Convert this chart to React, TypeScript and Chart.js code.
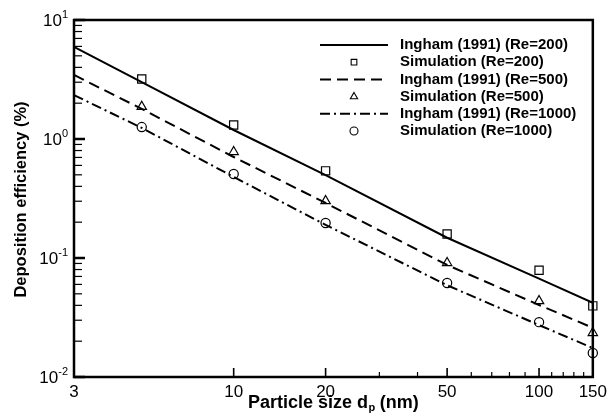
import React, { useEffect, useRef } from "react";
import { Chart, registerables } from "chart.js";

Chart.register(...registerables);

const FONT = '"Liberation Sans", Arial, Helvetica, sans-serif';

// Simulation data points (particle size, nm)
const simSizes = [5, 10, 20, 50, 100, 150];
const simRe200 = [3.19, 1.31, 0.54, 0.159, 0.079, 0.0396];
const simRe500 = [1.87, 0.78, 0.302, 0.091, 0.0436, 0.0235];
const simRe1000 = [1.26, 0.508, 0.197, 0.0617, 0.0289, 0.0159];

// Ingham (1991) curves
const theorySizes = [3, 5, 10, 20, 50, 100, 150];
const inghamRe200 = [5.94, 3.01, 1.19, 0.498, 0.148, 0.067, 0.042];
const inghamRe500 = [3.45, 1.79, 0.706, 0.29, 0.0874, 0.0403, 0.0259];
const inghamRe1000 = [2.34, 1.24, 0.48, 0.19, 0.059, 0.0273, 0.0175];

// Axes
const xTickValues = [3, 10, 20, 50, 100, 150];
const xMajorMarks = [10, 20, 50, 100];
const xMinorMarks = [30, 40, 60, 70, 80, 90, 110, 120, 130, 140];
const yDecades = [0.01, 0.1, 1, 10];
const yDecadeExponents = ["-2", "-1", "0", "1"];
const yMinorFactors = [2, 3, 4, 5, 6, 7, 8, 9];

const legendLabels = [
  "Ingham (1991) (Re=200)",
  "Simulation (Re=200)",
  "Ingham (1991) (Re=500)",
  "Simulation (Re=500)",
  "Ingham (1991) (Re=1000)",
  "Simulation (Re=1000)",
];

const xTitleMain = "Particle size d";
const xTitleSub = "p";
const xTitleTail = " (nm)";
const yTitle = "Deposition efficiency (%)";

const toPts = (xs: number[], ys: number[]) => xs.map((x, i) => ({ x, y: ys[i] }));

function drawMarker(ctx: CanvasRenderingContext2D, style: string, x: number, y: number, r: number) {
  ctx.beginPath();
  if (style === "rect") {
    const s = r * Math.SQRT1_2;
    ctx.rect(x - s, y - s, 2 * s, 2 * s);
  } else if (style === "triangle") {
    for (let k = 0; k < 3; k++) {
      const ang = (k * 2 * Math.PI) / 3;
      const px = x + Math.sin(ang) * r;
      const py = y - Math.cos(ang) * r;
      if (k === 0) ctx.moveTo(px, py);
      else ctx.lineTo(px, py);
    }
    ctx.closePath();
  } else {
    ctx.arc(x, y, r, 0, Math.PI * 2);
  }
  ctx.stroke();
}

const decorPlugin = {
  id: "decor",
  beforeDatasetsDraw(chart: any) {
    const { ctx, chartArea: a, scales } = chart;
    const xs = scales.x;
    const ys = scales.y;
    ctx.save();
    ctx.strokeStyle = "#000";
    const seg = (x1: number, y1: number, x2: number, y2: number) => {
      ctx.beginPath();
      ctx.moveTo(x1, y1);
      ctx.lineTo(x2, y2);
      ctx.stroke();
    };
    // y minor ticks
    ctx.lineWidth = 1.2;
    for (const d of yDecades.slice(0, 3)) {
      for (const f of yMinorFactors) {
        const py = ys.getPixelForValue(d * f);
        seg(a.left, py, a.left + 8, py);
      }
    }
    ctx.lineWidth = 2.5;
    for (const v of yDecades) {
      const py = ys.getPixelForValue(v);
      seg(a.left, py, a.left + 11, py);
    }
    // x ticks
    ctx.lineWidth = 1.2;
    for (const v of xMinorMarks) {
      const px = xs.getPixelForValue(v);
      seg(px, a.bottom, px, a.bottom - 5);
    }
    ctx.lineWidth = 1.6;
    for (const v of xMajorMarks) {
      const px = xs.getPixelForValue(v);
      seg(px, a.bottom, px, a.bottom - 9);
    }
    // frame
    ctx.lineWidth = 2.5;
    ctx.strokeRect(a.left, a.top, a.right - a.left, a.bottom - a.top);
    ctx.restore();
  },
  afterDraw(chart: any) {
    const { ctx, chartArea: a, scales } = chart;
    const ys = scales.y;
    ctx.save();
    ctx.fillStyle = "#000";
    // y tick labels with superscripts
    yDecades.forEach((v, i) => {
      const py = ys.getPixelForValue(v);
      ctx.font = `11px ${FONT}`;
      const sup = yDecadeExponents[i];
      const supW = ctx.measureText(sup).width;
      const right = a.left - 6;
      ctx.textBaseline = "middle";
      ctx.textAlign = "left";
      ctx.fillText(sup, right - supW, py - 5);
      ctx.font = `17px ${FONT}`;
      ctx.textAlign = "right";
      ctx.fillText("10", right - supW, py + 1);
    });
    // x title
    const mainF = `bold 18px ${FONT}`;
    const subF = `bold 11px ${FONT}`;
    ctx.font = mainF;
    const w1 = ctx.measureText(xTitleMain).width;
    const w3 = ctx.measureText(xTitleTail).width;
    ctx.font = subF;
    const w2 = ctx.measureText(xTitleSub).width;
    const cx = (a.left + a.right) / 2;
    let sx = cx - (w1 + w2 + w3) / 2;
    const ty = 408;
    ctx.textAlign = "left";
    ctx.textBaseline = "alphabetic";
    ctx.font = mainF;
    ctx.fillText(xTitleMain, sx, ty);
    sx += w1;
    ctx.font = subF;
    ctx.fillText(xTitleSub, sx + 0.5, ty + 3);
    sx += w2;
    ctx.font = mainF;
    ctx.fillText(xTitleTail, sx, ty);
    // y title
    ctx.save();
    ctx.translate(21, (a.top + a.bottom) / 2 + 1);
    ctx.rotate(-Math.PI / 2);
    ctx.textAlign = "center";
    ctx.textBaseline = "middle";
    ctx.font = `bold 16.5px ${FONT}`;
    ctx.fillText(yTitle, 0, 0);
    ctx.restore();
    // legend
    const rows = [45, 62.2, 79.4, 96.6, 113.8, 131];
    chart.data.datasets.forEach((ds: any, i: number) => {
      const y = rows[i];
      ctx.strokeStyle = "#000";
      if (ds.showLine) {
        ctx.lineWidth = ds.borderWidth;
        ctx.setLineDash(ds.borderDash || []);
        ctx.beginPath();
        ctx.moveTo(320, y);
        ctx.lineTo(388, y);
        ctx.stroke();
        ctx.setLineDash([]);
      } else {
        ctx.lineWidth = 1.1;
        drawMarker(ctx, ds.pointStyle, 354, y, ds.pointStyle === "triangle" ? 4.2 : 4);
      }
      ctx.font = `bold 15px ${FONT}`;
      ctx.textAlign = "left";
      ctx.textBaseline = "middle";
      ctx.fillStyle = "#000";
      ctx.fillText(legendLabels[i], 400, y);
    });
    ctx.restore();
  },
};

export default function App() {
  const ref = useRef<HTMLCanvasElement | null>(null);
  useEffect(() => {
    if (!ref.current) return;
    const lineDs = (ys: number[], dash: number[]) => ({
      type: "line" as const,
      data: toPts(theorySizes, ys),
      borderColor: "#000",
      borderWidth: 2,
      borderDash: dash,
      pointRadius: 0,
      showLine: true,
      fill: false,
      tension: 0,
    });
    const simDs = (ys: number[], style: string, r: number) => ({
      type: "line" as const,
      data: toPts(simSizes, ys),
      showLine: false,
      borderColor: "#000",
      backgroundColor: "rgba(0,0,0,0)",
      pointStyle: style,
      pointRadius: r,
      pointBorderWidth: 1.2,
      pointBorderColor: "#000",
      pointBackgroundColor: "rgba(0,0,0,0)",
      clip: false,
    });
    const chart = new Chart(ref.current, {
      type: "line",
      data: {
        datasets: [
          lineDs(inghamRe200, []),
          simDs(simRe200, "rect", 5.8),
          lineDs(inghamRe500, [11, 6]),
          simDs(simRe500, "triangle", 5.4),
          lineDs(inghamRe1000, [10, 4, 2, 4]),
          simDs(simRe1000, "circle", 4.6),
        ] as any,
      },
      options: {
        animation: false,
        responsive: false,
        devicePixelRatio: 1,
        layout: { padding: { top: 20, right: 16, left: 0, bottom: 0 } },
        plugins: { legend: { display: false }, tooltip: { enabled: false } },
        scales: {
          x: {
            type: "logarithmic",
            min: 3,
            max: 150,
            grid: { display: false, drawTicks: false },
            border: { display: false },
            afterBuildTicks: (s: any) => {
              s.ticks = xTickValues.map((v) => ({ value: v }));
            },
            afterFit: (s: any) => {
              s.height = 43;
            },
            ticks: {
              autoSkip: false,
              maxRotation: 0,
              padding: 5,
              color: "#000",
              font: { family: FONT, size: 17 },
              callback: (v: any) => String(v),
            },
          },
          y: {
            type: "logarithmic",
            min: 0.01,
            max: 10,
            grid: { display: false, drawTicks: false },
            border: { display: false },
            ticks: { display: false },
            afterFit: (s: any) => {
              s.width = 74;
            },
          },
        } as any,
      },
      plugins: [decorPlugin],
    });
    return () => chart.destroy();
  }, []);
  return (
    <div style={{ position: "absolute", left: 0, top: 0, width: 612, height: 420, background: "#fff" }}>
      <canvas ref={ref} width={612} height={420} />
    </div>
  );
}
